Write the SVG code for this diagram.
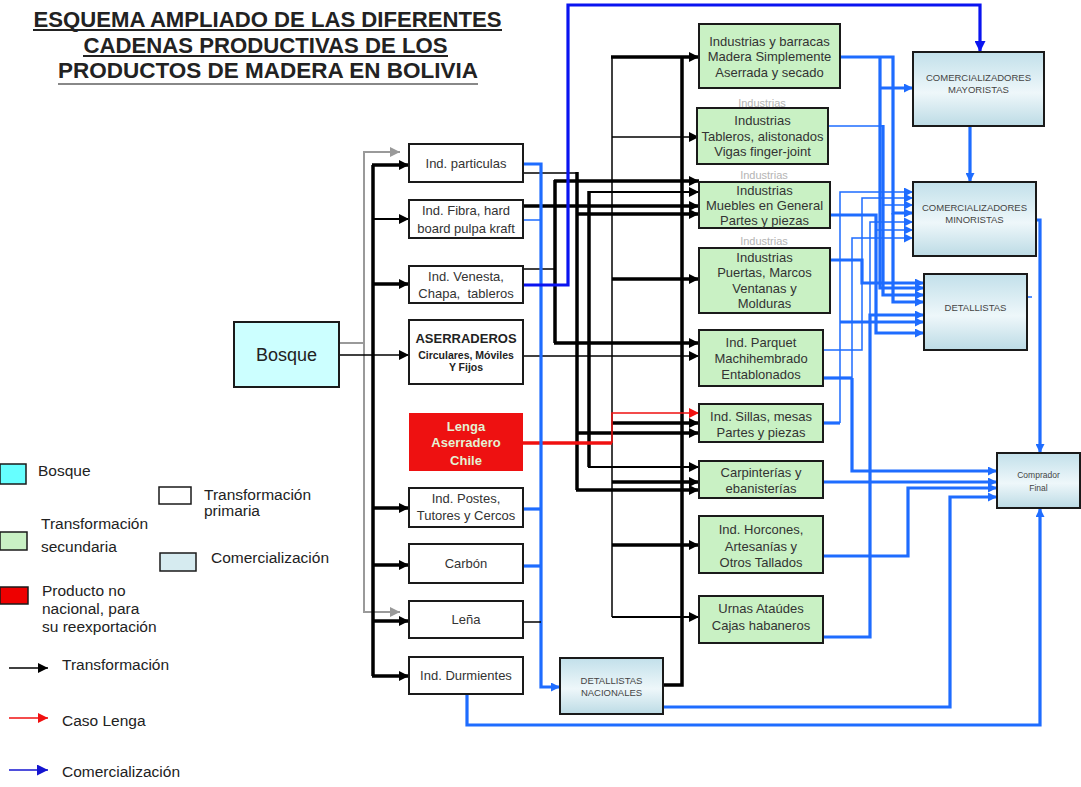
<svg xmlns="http://www.w3.org/2000/svg" width="1081" height="787" viewBox="0 0 1081 787">
<defs>
<style>
text{font-family:"Liberation Sans",Arial,sans-serif;}
.ttl{font-size:22.5px;font-weight:bold;fill:#222;text-anchor:middle;}
.t{font-size:13px;fill:#333;text-anchor:middle;}
.tb{font-size:13px;font-weight:bold;fill:#222;text-anchor:middle;}
.ts{font-size:10.5px;font-weight:bold;fill:#222;text-anchor:middle;}
.tl{font-size:13px;font-weight:bold;fill:#e4f2d4;text-anchor:middle;}
.tc{font-size:9.5px;fill:#444;text-anchor:middle;}
.tg{font-size:11px;fill:#b4b4b4;text-anchor:middle;}
.lg{font-size:15.5px;fill:#222;}
.pr{fill:#fff;stroke:#1a1a1a;stroke-width:2;}
.gr{fill:#c9f1c4;stroke:#1a1a1a;stroke-width:2;}
.cm{fill:url(#gc);stroke:#1a1a1a;stroke-width:2;}
.k1{fill:none;stroke:#000;stroke-width:1.5;}
.k2{fill:none;stroke:#000;stroke-width:2.2;}
.k3{fill:none;stroke:#000;stroke-width:3.5;}
.gy{fill:none;stroke:#9a9a9a;stroke-width:2;}
.b1{fill:none;stroke:#1e6cff;stroke-width:1.5;}
.b3{fill:none;stroke:#1e6cff;stroke-width:3.2;}
.bd{fill:none;stroke:#0a14f0;stroke-width:3.2;}
.r1{fill:none;stroke:#f01010;stroke-width:1.5;}
.r3{fill:none;stroke:#f01010;stroke-width:3.5;}
</style>
<linearGradient id="gc" x1="0" y1="0" x2="0" y2="1">
<stop offset="0" stop-color="#c2e0ea"/>
<stop offset="0.55" stop-color="#eef7fa"/>
<stop offset="1" stop-color="#bcdbe5"/>
</linearGradient>
<marker id="ak" viewBox="0 0 10 10" refX="10" refY="5" markerWidth="10" markerHeight="10" markerUnits="userSpaceOnUse" orient="auto"><path d="M0,0 L10,5 L0,10 z" fill="#000"/></marker>
<marker id="ab" viewBox="0 0 10 10" refX="10" refY="5" markerWidth="9" markerHeight="9" markerUnits="userSpaceOnUse" orient="auto"><path d="M0,0 L10,5 L0,10 z" fill="#1e6cff"/></marker>
<marker id="abd" viewBox="0 0 10 10" refX="10" refY="5" markerWidth="11" markerHeight="11" markerUnits="userSpaceOnUse" orient="auto"><path d="M0,0 L10,5 L0,10 z" fill="#0a14f0"/></marker>
<marker id="abl" viewBox="0 0 10 10" refX="10" refY="5" markerWidth="11" markerHeight="11" markerUnits="userSpaceOnUse" orient="auto"><path d="M0,0 L10,5 L0,10 z" fill="#1414d0"/></marker>
<marker id="ar" viewBox="0 0 10 10" refX="10" refY="5" markerWidth="10" markerHeight="10" markerUnits="userSpaceOnUse" orient="auto"><path d="M0,0 L10,5 L0,10 z" fill="#f01010"/></marker>
<marker id="ag" viewBox="0 0 10 10" refX="10" refY="5" markerWidth="10" markerHeight="10" markerUnits="userSpaceOnUse" orient="auto"><path d="M0,0 L10,5 L0,10 z" fill="#9a9a9a"/></marker>
</defs>
<rect x="0" y="0" width="1081" height="787" fill="#fff"/>

<g id="title">
<text class="ttl" x="267.5" y="27" textLength="468" lengthAdjust="spacingAndGlyphs">ESQUEMA AMPLIADO DE LAS DIFERENTES</text>
<text class="ttl" x="265.5" y="52.5" textLength="364" lengthAdjust="spacingAndGlyphs">CADENAS PRODUCTIVAS DE LOS</text>
<text class="ttl" x="268" y="78" textLength="420" lengthAdjust="spacingAndGlyphs">PRODUCTOS DE MADERA EN BOLIVIA</text>
<line x1="33" y1="30" x2="502" y2="30" stroke="#222" stroke-width="2"/>
<line x1="83" y1="56" x2="448" y2="56" stroke="#222" stroke-width="2"/>
<line x1="58" y1="84" x2="478" y2="84" stroke="#888" stroke-width="2"/>
</g>

<g id="connectors">
<path class="gy" d="M338,343 H364"/>
<path class="gy" d="M364,343 V152 H400" marker-end="url(#ag)"/>
<path class="gy" d="M364,343 V612 H400" marker-end="url(#ag)"/>
<path class="k1" d="M338,355 H409" marker-end="url(#ak)"/>
<path class="k3" d="M373,165 V676"/>
<path class="k3" d="M372,165 H409" marker-end="url(#ak)"/>
<path class="k2" d="M373,219 H409" marker-end="url(#ak)"/>
<path class="k3" d="M373,284 H409" marker-end="url(#ak)"/>
<path class="k3" d="M373,508 H409" marker-end="url(#ak)"/>
<path class="k3" d="M373,565 H409" marker-end="url(#ak)"/>
<path class="k3" d="M373,621 H409" marker-end="url(#ak)"/>
<path class="k3" d="M372,676 H409" marker-end="url(#ak)"/>
<path class="k1" d="M522,173 H577"/>
<path class="k3" d="M577,172 V490"/>
<path class="k3" d="M577,214 H699" marker-end="url(#ak)"/>
<path class="k3" d="M577,433 H699" marker-end="url(#ak)"/>
<path class="k3" d="M576,490 H699" marker-end="url(#ak)"/>
<path class="k3" d="M522,206 H699" marker-end="url(#ak)"/>
<path class="k3" d="M589,191 V467"/>
<path class="k2" d="M588,192 H699" marker-end="url(#ak)"/>
<path class="k2" d="M588,467 H699" marker-end="url(#ak)"/>
<path class="k1" d="M522,269 H555"/>
<path class="k3" d="M555,180 V343"/>
<path class="k3" d="M554,181 H699" marker-end="url(#ak)"/>
<path class="k3" d="M554,343 H699" marker-end="url(#ak)"/>
<path class="k1" d="M522,356 H699" marker-end="url(#ak)"/>
<path class="k1" d="M612,57 V617"/>
<path class="k3" d="M611,57 H699" marker-end="url(#ak)"/>
<path class="k1" d="M612,137 H699" marker-end="url(#ak)"/>
<path class="k3" d="M612,279 H699" marker-end="url(#ak)"/>
<path class="k3" d="M612,423 H699" marker-end="url(#ak)"/>
<path class="k3" d="M612,482 H699" marker-end="url(#ak)"/>
<path class="k3" d="M612,545 H699" marker-end="url(#ak)"/>
<path class="k2" d="M612,617 H699" marker-end="url(#ak)"/>
<path class="k3" d="M663,685 H682 V57"/>
<path class="r3" d="M522,443 H612"/>
<path class="r1" d="M612,443 V413 H699" marker-end="url(#ar)"/>
<path class="b3" d="M522,164 H541 V687 H560" marker-end="url(#ab)"/>
<path class="b1" d="M522,220 H541"/>
<path class="b3" d="M522,509 H541"/>
<path class="b3" d="M522,566 H541"/>
<path class="k1" d="M522,622 H541"/>
<path class="bd" d="M522,285 H568 V5 H980 V52" marker-end="url(#abd)"/>
<path class="b3" d="M467,694 V725 H1040 V508" marker-end="url(#ab)"/>
<path class="b3" d="M663,707 H950 V497 H997" marker-end="url(#ab)"/>
<path class="b3" d="M840,57 H893 V213 H913" marker-end="url(#ab)"/>
<path class="b3" d="M893,213 V302 H924" marker-end="url(#ab)"/>
<path class="b3" d="M880,57 V288 H924" marker-end="url(#ab)"/>
<path class="b3" d="M880,88 H913" marker-end="url(#ab)"/>
<path class="b1" d="M828,126 H883"/>
<path class="b3" d="M883,125 V295 H924" marker-end="url(#ab)"/>
<path class="b1" d="M883,205 H913" marker-end="url(#ab)"/>
<path class="b3" d="M970,126 V182" marker-end="url(#ab)"/>
<path class="b3" d="M830,215 H876 V333 H924" marker-end="url(#ab)"/>
<path class="b1" d="M876,230 H913" marker-end="url(#ab)"/>
<path class="b3" d="M830,260 H862 V283 H924" marker-end="url(#ab)"/>
<path class="b1" d="M862,260 V198 H913" marker-end="url(#ab)"/>
<path class="b1" d="M862,283 V350 H823"/>
<path class="b3" d="M823,378 H852"/>
<path class="b1" d="M852,378 V238 H913" marker-end="url(#ab)"/>
<path class="b3" d="M852,378 V471 H997" marker-end="url(#ab)"/>
<path class="b3" d="M823,423 H840"/>
<path class="b1" d="M840,423 V192 H913" marker-end="url(#ab)"/>
<path class="b3" d="M840,322 H924" marker-end="url(#ab)"/>
<path class="b3" d="M823,482 H997" marker-end="url(#ab)"/>
<path class="b3" d="M823,556 H908 V488 H997" marker-end="url(#ab)"/>
<path class="b3" d="M823,637 H870 V315 H924" marker-end="url(#ab)"/>
<path class="b1" d="M870,315 V222 H913" marker-end="url(#ab)"/>
<path class="b3" d="M1036,220 H1040 V453" marker-end="url(#ab)"/>
<path class="b1" d="M1027,297 H1032"/>
</g>

<g id="bosque"><rect x="234" y="322" width="105" height="65" fill="#ccffff" stroke="#1a1a1a" stroke-width="2"/><text x="286.5" y="361" style="font-size:18px;fill:#222;text-anchor:middle">Bosque</text></g>

<g id="ind-particulas"><rect class="pr" x="409" y="144" width="114" height="38"/><text class="t" x="466" y="168">Ind. particulas</text></g>
<g id="ind-fibra"><rect class="pr" x="409" y="200" width="114" height="38"/><text class="t" x="466" y="215">Ind. Fibra, hard</text><text class="t" x="466" y="233">board pulpa kraft</text></g>
<g id="ind-venesta"><rect class="pr" x="409" y="266" width="114" height="37"/><text class="t" x="466" y="281">Ind. Venesta,</text><text class="t" x="466" y="298" xml:space="preserve">Chapa,  tableros</text></g>
<g id="aserraderos"><rect class="pr" x="409" y="320" width="114" height="64"/><text class="tb" x="466" y="343">ASERRADEROS</text><text class="ts" x="466" y="359">Circulares, Móviles</text><text class="ts" x="466" y="371">Y Fijos</text></g>
<g id="lenga"><rect x="409" y="413" width="114" height="58" fill="#ee1111"/><text class="tl" x="466" y="431">Lenga</text><text class="tl" x="466" y="447">Aserradero</text><text class="tl" x="466" y="465">Chile</text></g>
<g id="ind-postes"><rect class="pr" x="409" y="488" width="114" height="39"/><text class="t" x="466" y="503">Ind. Postes,</text><text class="t" x="466" y="520">Tutores y Cercos</text></g>
<g id="carbon"><rect class="pr" x="409" y="544" width="114" height="39"/><text class="t" x="466" y="568">Carbón</text></g>
<g id="lena"><rect class="pr" x="409" y="601" width="114" height="37"/><text class="t" x="466" y="624">Leña</text></g>
<g id="ind-durmientes"><rect class="pr" x="409" y="657" width="114" height="37"/><text class="t" x="466" y="680">Ind. Durmientes</text></g>

<g id="ind-barracas"><rect class="gr" x="699" y="24" width="141" height="64"/><text class="t" x="769.5" y="46">Industrias y barracas</text><text class="t" x="769.5" y="61">Madera Simplemente</text><text class="t" x="769.5" y="77">Aserrada y secado</text></g>
<g id="ind-tableros"><text class="tg" x="762" y="107">Industrias</text><rect class="gr" x="697" y="108" width="131" height="56"/><text class="t" x="762.5" y="125">Industrias</text><text class="t" x="762.5" y="141">Tableros, alistonados</text><text class="t" x="762.5" y="156">Vigas finger-joint</text></g>
<g id="ind-muebles"><text class="tg" x="764" y="179">Industrias</text><rect class="gr" x="699" y="182" width="131" height="46"/><text class="t" x="764.5" y="195">Industrias</text><text class="t" x="764.5" y="210">Muebles en General</text><text class="t" x="764.5" y="225">Partes y piezas</text></g>
<g id="ind-puertas"><text class="tg" x="764" y="245">Industrias</text><rect class="gr" x="699" y="248" width="131" height="65"/><text class="t" x="764.5" y="262">Industrias</text><text class="t" x="764.5" y="277">Puertas, Marcos</text><text class="t" x="764.5" y="293">Ventanas y</text><text class="t" x="764.5" y="308">Molduras</text></g>
<g id="ind-parquet"><rect class="gr" x="699" y="330" width="124" height="56"/><text class="t" x="761" y="347">Ind. Parquet</text><text class="t" x="761" y="363">Machihembrado</text><text class="t" x="761" y="379">Entablonados</text></g>
<g id="ind-sillas"><rect class="gr" x="699" y="404" width="124" height="38"/><text class="t" x="761" y="421">Ind. Sillas, mesas</text><text class="t" x="761" y="437">Partes y piezas</text></g>
<g id="carpinterias"><rect class="gr" x="699" y="461" width="124" height="37"/><text class="t" x="761" y="477">Carpinterías y</text><text class="t" x="761" y="493">ebanisterías</text></g>
<g id="ind-horcones"><rect class="gr" x="699" y="516" width="124" height="57"/><text class="t" x="761" y="534">Ind. Horcones,</text><text class="t" x="761" y="551">Artesanías y</text><text class="t" x="761" y="567">Otros Tallados</text></g>
<g id="urnas"><rect class="gr" x="699" y="596" width="124" height="47"/><text class="t" x="761" y="613">Urnas Ataúdes</text><text class="t" x="761" y="630">Cajas habaneros</text></g>

<g id="mayoristas"><rect class="cm" x="913" y="52" width="131" height="74"/><text class="tc" x="978.5" y="81">COMERCIALIZADORES</text><text class="tc" x="978.5" y="93">MAYORISTAS</text></g>
<g id="minoristas"><rect class="cm" x="913" y="182" width="123" height="74"/><text class="tc" x="974.5" y="211">COMERCIALIZADORES</text><text class="tc" x="974.5" y="223">MINORISTAS</text></g>
<g id="detallistas"><rect class="cm" x="924" y="274" width="103" height="76"/><text class="tc" x="975.5" y="311">DETALLISTAS</text></g>
<g id="comprador"><rect class="cm" x="997" y="453" width="83" height="55"/><text class="tc" x="1038.5" y="478" style="font-size:8.5px">Comprador</text><text class="tc" x="1038.5" y="491" style="font-size:8.5px">Final</text></g>
<g id="detallistas-nacionales"><rect class="cm" x="560" y="658" width="103" height="56"/><text class="tc" x="611.5" y="684">DETALLISTAS</text><text class="tc" x="611.5" y="696">NACIONALES</text></g>

<g id="legend">
<rect x="0" y="464" width="26" height="20" fill="#66ffff" stroke="#1a1a1a" stroke-width="1.5"/>
<text class="lg" x="38" y="476">Bosque</text>
<rect x="0" y="532" width="27" height="18" fill="#c9f1c4" stroke="#1a1a1a" stroke-width="1.5"/>
<text class="lg" x="41" y="529">Transformación</text>
<text class="lg" x="41" y="552">secundaria</text>
<rect x="0" y="587" width="28" height="17" fill="#ee0000" stroke="#1a1a1a" stroke-width="1.5"/>
<text class="lg" x="42" y="596">Producto no</text>
<text class="lg" x="42" y="614">nacional, para</text>
<text class="lg" x="42" y="632">su reexportación</text>
<rect x="159" y="487" width="32" height="17" fill="#fff" stroke="#1a1a1a" stroke-width="1.5"/>
<text class="lg" x="204" y="500">Transformación</text>
<text class="lg" x="204" y="516">primaria</text>
<rect x="160" y="553" width="36" height="18" fill="#d6ebf0" stroke="#1a1a1a" stroke-width="1.5"/>
<text class="lg" x="211" y="563">Comercialización</text>
<path d="M9,668 H48" stroke="#000" stroke-width="1.5" marker-end="url(#ak)"/>
<text class="lg" x="62" y="670">Transformación</text>
<path d="M9,718 H48" stroke="#f01010" stroke-width="1.5" marker-end="url(#ar)"/>
<text class="lg" x="62" y="726">Caso Lenga</text>
<path d="M9,770 H48" stroke="#1414d0" stroke-width="1.5" marker-end="url(#abl)"/>
<text class="lg" x="62" y="777">Comercialización</text>
</g>
</svg>
